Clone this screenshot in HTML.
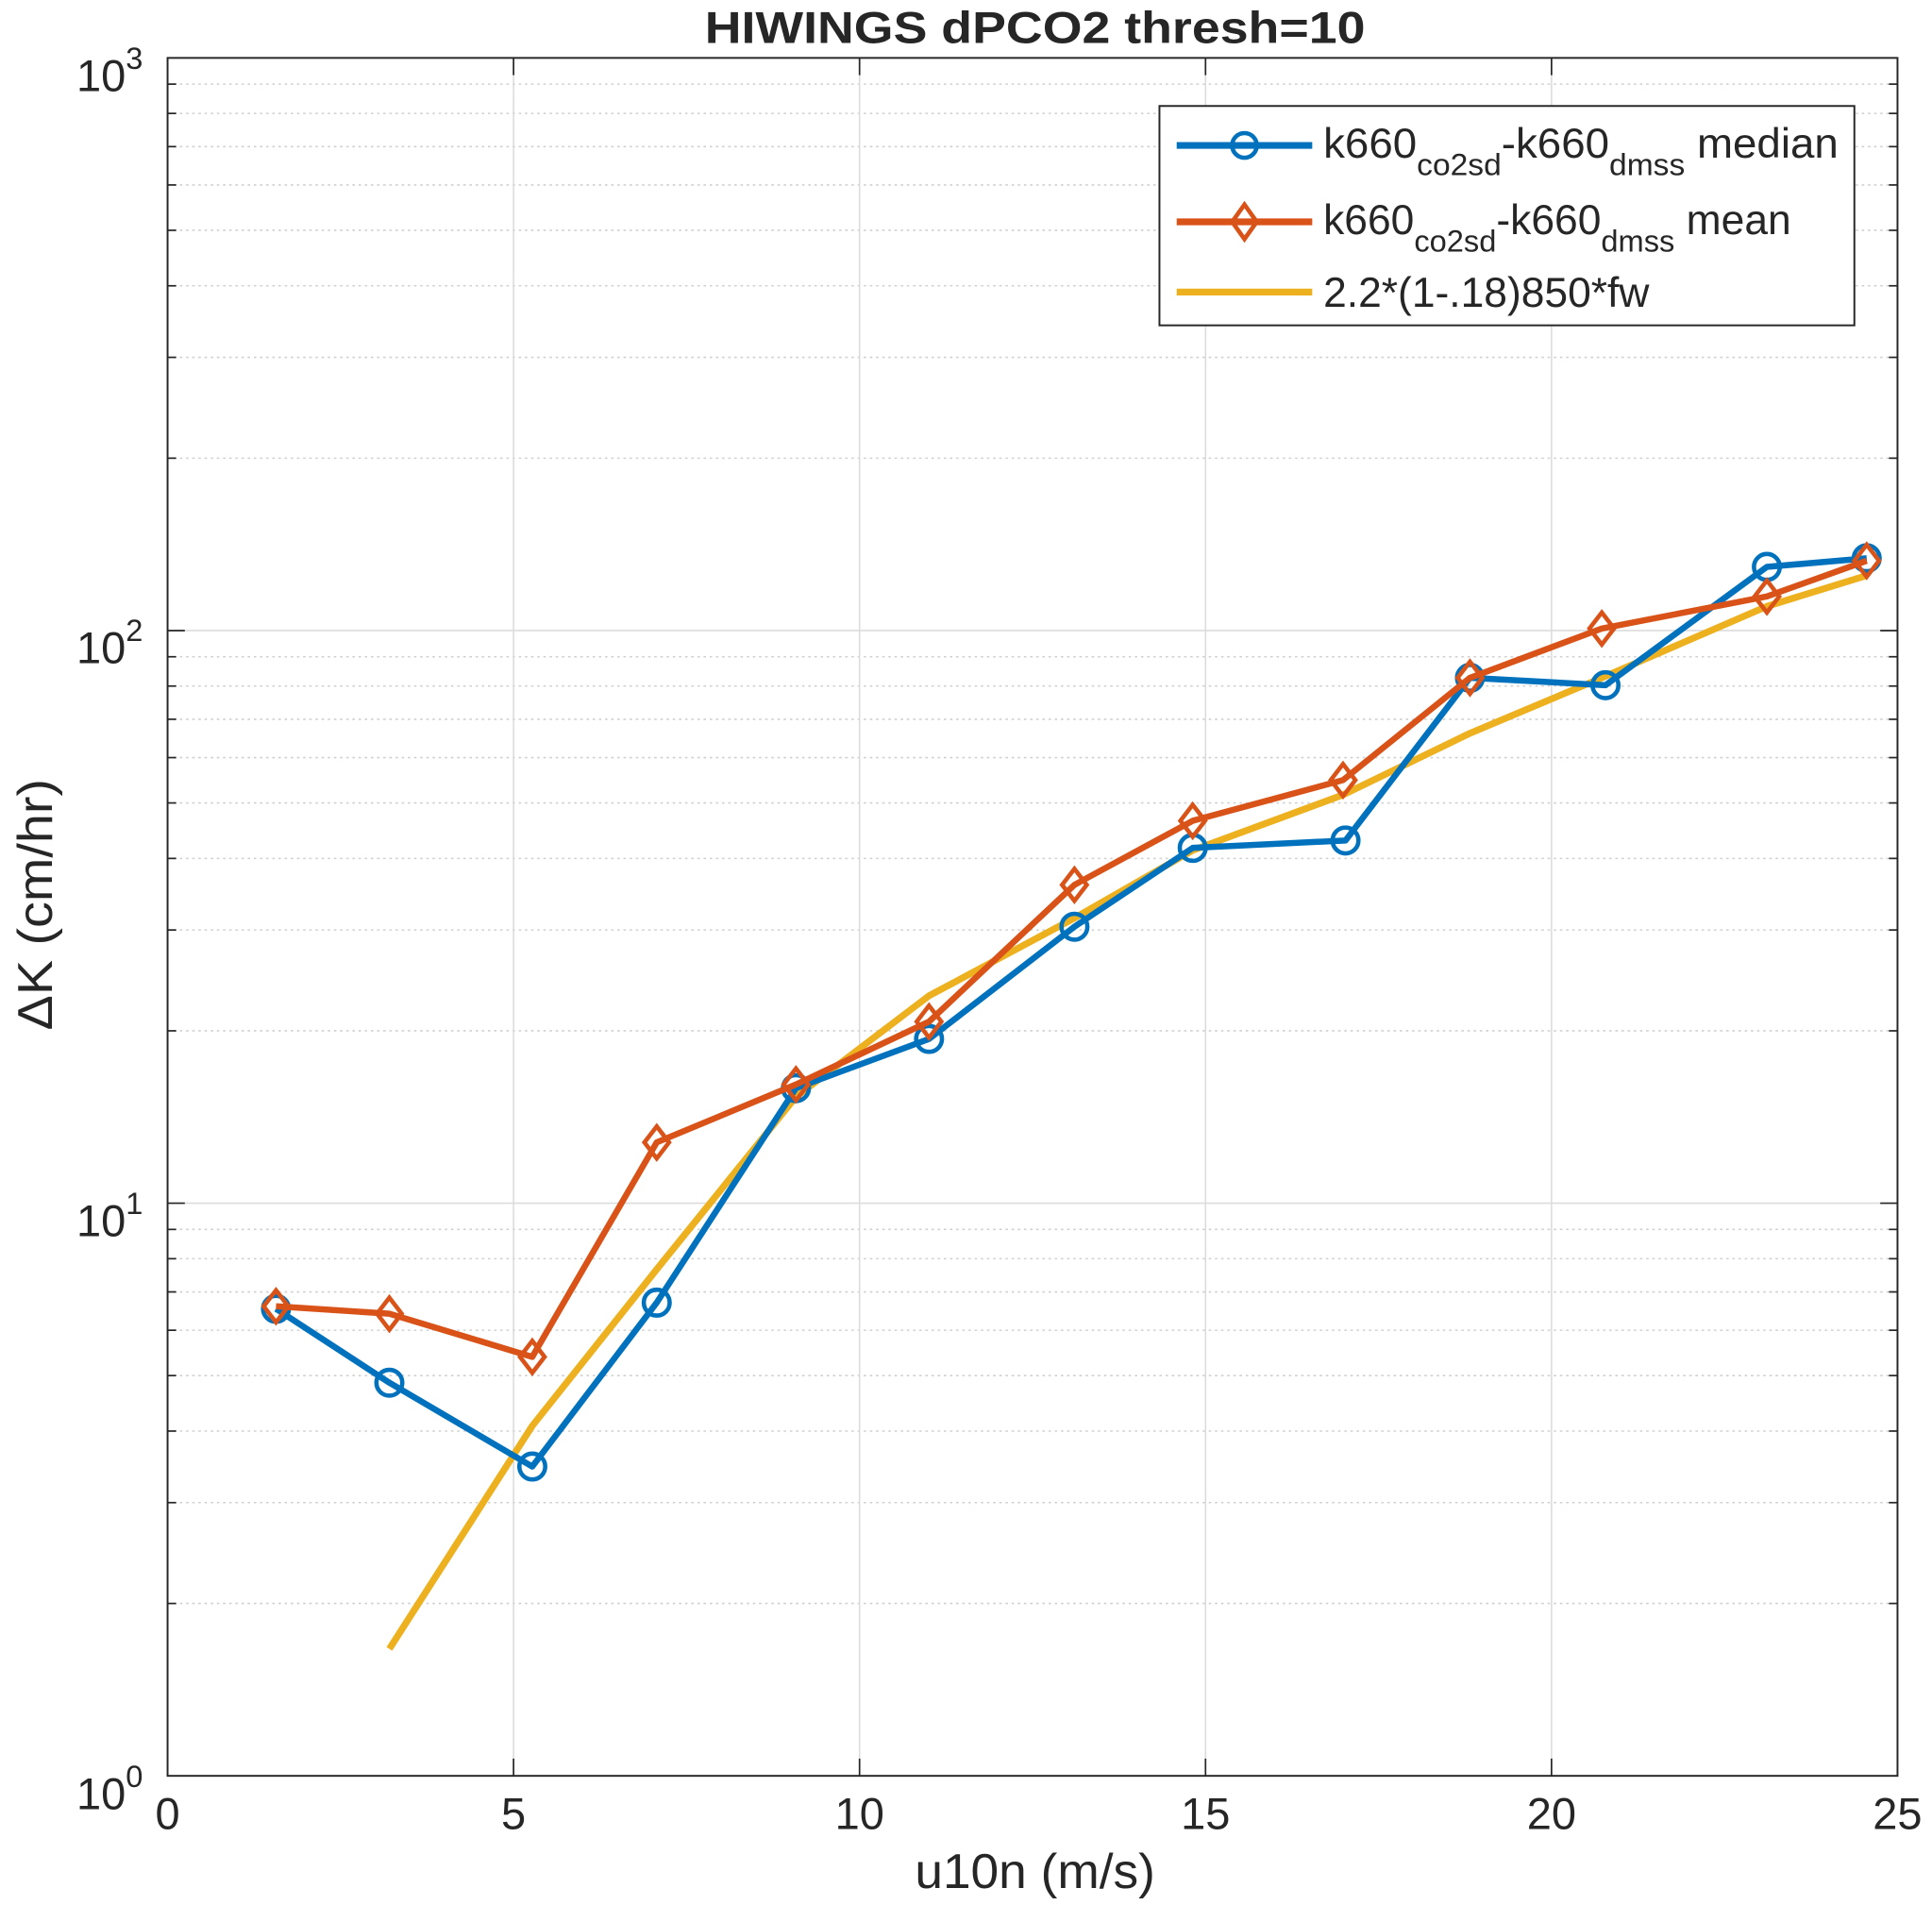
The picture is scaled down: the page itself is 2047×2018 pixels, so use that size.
<!DOCTYPE html>
<html><head><meta charset="utf-8"><style>
html,body{margin:0;padding:0;background:#fff;}
svg{display:block;}
text{font-family:"Liberation Sans",Arial,sans-serif;fill:#262626;}
</style></head><body>
<svg width="2047" height="2018" viewBox="0 0 1568 1545.8" preserveAspectRatio="none" xmlns="http://www.w3.org/2000/svg">
<rect x="0" y="0" width="1568" height="1546" fill="#fff"/>
<g id="minor" stroke="#d0d0d0" stroke-width="1.2" stroke-dasharray="2,3"></g>
<g id="major" stroke="#dcdcdc" stroke-width="1.2"></g>
<g id="ticks" stroke="#262626" stroke-width="1.3"></g>
<rect x="136" y="47" width="1404" height="1394" fill="none" stroke="#262626" stroke-width="1.5"/>

<polyline fill="none" stroke="#EDB120" stroke-width="5.5" stroke-linejoin="round" points="316,1338 432,1157 533,1030 646,890 754,808 872,745 968,690 1090,645 1193,595 1300,550 1434,492 1515,467"/>
<polyline fill="none" stroke="#0072BD" stroke-width="5" stroke-linejoin="round" points="224,1062 316,1122 432,1190 533,1057 646,883 754,843 872,752 968,688 1092,682 1193,550 1303,556 1434,460 1515,453"/>
<g fill="none" stroke="#0072BD" stroke-width="3.5">
<circle cx="224" cy="1062" r="10.5"/><circle cx="316" cy="1122" r="10.5"/><circle cx="432" cy="1190" r="10.5"/><circle cx="533" cy="1057" r="10.5"/><circle cx="646" cy="883" r="10.5"/><circle cx="754" cy="843" r="10.5"/><circle cx="872" cy="752" r="10.5"/><circle cx="968" cy="688" r="10.5"/><circle cx="1092" cy="682" r="10.5"/><circle cx="1193" cy="550" r="10.5"/><circle cx="1303" cy="556" r="10.5"/><circle cx="1434" cy="460" r="10.5"/><circle cx="1515" cy="453" r="10.5"/>
</g>
<polyline fill="none" stroke="#D95319" stroke-width="5" stroke-linejoin="round" points="224,1060 316,1066 432,1101 533,927 646,880 754,829 872,718 968,666 1090,633 1193,550 1300,510 1434,484 1515,455"/>
<g fill="none" stroke="#D95319" stroke-width="3.5" id="diam"></g>

<rect x="941" y="86" width="564" height="178" fill="#fff" stroke="#262626" stroke-width="1.5"/>
<line x1="955" y1="118" x2="1065" y2="118" stroke="#0072BD" stroke-width="5.5"/>
<circle cx="1010" cy="118" r="10" fill="none" stroke="#0072BD" stroke-width="3.5"/>
<line x1="955" y1="180" x2="1065" y2="180" stroke="#D95319" stroke-width="5.5"/>
<polygon points="1010,166 1020,180 1010,194 1000,180" fill="none" stroke="#D95319" stroke-width="3.5"/>
<line x1="955" y1="237" x2="1065" y2="237" stroke="#EDB120" stroke-width="5.5"/>
<text x="1074" y="128" font-size="34" fill="#000" textLength="418" lengthAdjust="spacingAndGlyphs">k660<tspan font-size="25" dy="14">co2sd</tspan><tspan dy="-14">-k660</tspan><tspan font-size="25" dy="14">dmss</tspan><tspan dy="-14"> median</tspan></text>
<text x="1074" y="190" font-size="34" fill="#000">k660<tspan font-size="25" dy="14">co2sd</tspan><tspan dy="-14">-k660</tspan><tspan font-size="25" dy="14">dmss</tspan><tspan dy="-14"> mean</tspan></text>
<text x="1074" y="249" font-size="34" fill="#000">2.2*(1-.18)850*fw</text>

<text x="840" y="35" font-size="36" font-weight="bold" text-anchor="middle" fill="#000" textLength="536" lengthAdjust="spacingAndGlyphs">HIWINGS dPCO2 thresh=10</text>
<g font-size="36" text-anchor="middle">
<text x="136" y="1484">0</text><text x="416.8" y="1484">5</text><text x="697.6" y="1484">10</text><text x="978.4" y="1484">15</text><text x="1259.2" y="1484">20</text><text x="1540" y="1484">25</text>
</g>
<g font-size="36" text-anchor="end">
<text x="116" y="1468">10<tspan font-size="25" dy="-18">0</tspan></text>
<text x="116" y="1003">10<tspan font-size="25" dy="-18">1</tspan></text>
<text x="116" y="538">10<tspan font-size="25" dy="-18">2</tspan></text>
<text x="116" y="74">10<tspan font-size="25" dy="-18">3</tspan></text>
</g>
<text x="840" y="1532" font-size="40" text-anchor="middle" textLength="195" lengthAdjust="spacingAndGlyphs">u10n (m/s)</text>
<text transform="translate(42,734) rotate(-90)" font-size="40" text-anchor="middle" textLength="204" lengthAdjust="spacingAndGlyphs">ΔK (cm/hr)</text>
</svg>
<script>
(function(){
var ns="http://www.w3.org/2000/svg";
function L(g,x1,y1,x2,y2){var l=document.createElementNS(ns,"line");l.setAttribute("x1",x1);l.setAttribute("y1",y1);l.setAttribute("x2",x2);l.setAttribute("y2",y2);document.getElementById(g).appendChild(l);}
var top=47,bot=1441,left=136,right=1540,dec=(bot-top)/3;
for(var d=0;d<3;d++){for(var m=2;m<10;m++){var y=bot-dec*(d+Math.log10(m));L("minor",left,y,right,y);L("ticks",left,y,left+7,y);L("ticks",right,y,right-7,y);}}
for(var d=1;d<3;d++){var y=bot-dec*d;L("major",left,y,right,y);L("ticks",left,y,left+14,y);L("ticks",right,y,right-14,y);}
for(var i=1;i<5;i++){var x=left+i*(right-left)/5;L("major",x,top,x,bot);L("ticks",x,bot,x,bot-14);L("ticks",x,top,x,top+14);}
var pts=[[224,1060],[316,1066],[432,1101],[533,927],[646,880],[754,829],[872,718],[968,666],[1090,633],[1193,550],[1300,510],[1434,484],[1515,455]];
pts.forEach(function(p){var g=document.createElementNS(ns,"polygon");g.setAttribute("points",p[0]+","+(p[1]-13)+" "+(p[0]+10)+","+p[1]+" "+p[0]+","+(p[1]+13)+" "+(p[0]-10)+","+p[1]);document.getElementById("diam").appendChild(g);});
})();
</script>
</body></html>
